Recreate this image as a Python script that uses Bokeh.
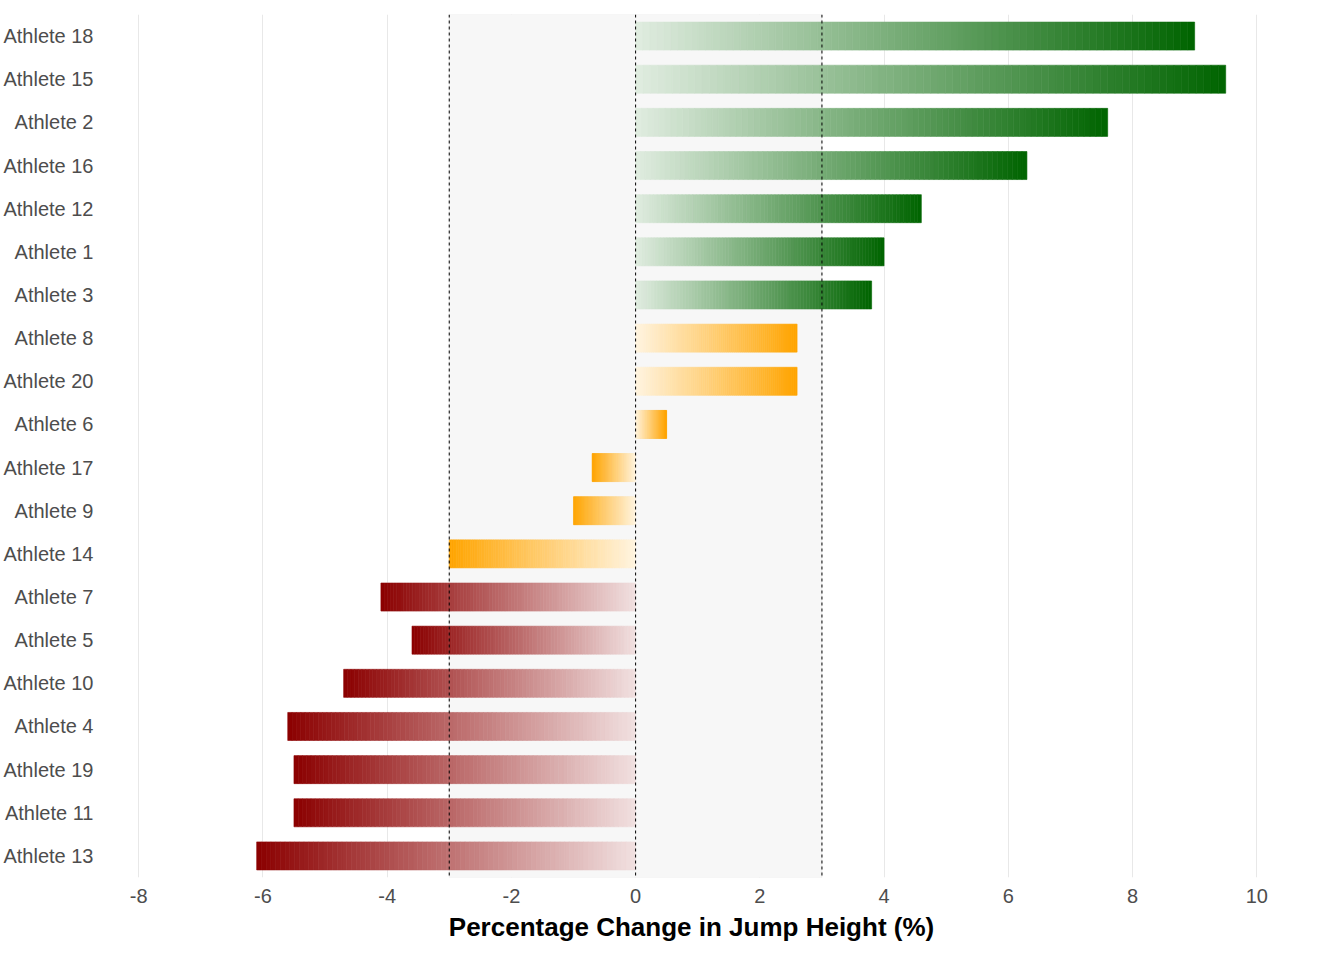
from bokeh.plotting import figure
from bokeh.models import Span, BoxAnnotation, FactorRange, CustomJSTickFormatter
from bokeh.embed import file_html
from bokeh.resources import INLINE

athletes = ["Athlete 18", "Athlete 15", "Athlete 2", "Athlete 16", "Athlete 12",
            "Athlete 1", "Athlete 3", "Athlete 8", "Athlete 20", "Athlete 6",
            "Athlete 17", "Athlete 9", "Athlete 14", "Athlete 7", "Athlete 5",
            "Athlete 10", "Athlete 4", "Athlete 19", "Athlete 11", "Athlete 13"]
change = [9.0, 9.5, 7.6, 6.3, 4.6, 4.0, 3.8, 2.6, 2.6, 0.5,
          -0.7, -1.0, -3.0, -4.1, -3.6, -4.7, -5.6, -5.5, -5.5, -6.1]
x_ticks = [-8, -6, -4, -2, 0, 2, 4, 6, 8, 10]


def blend(rgb, t):
    # mix colour with white, t=1 gives full colour
    r, g, b = [int(round(255 + (c - 255) * t)) for c in rgb]
    return "#%02x%02x%02x" % (r, g, b)


p = figure(width=1328, height=944, y_range=FactorRange(*athletes[::-1]),
           x_range=(-8.55, 10.35), output_backend="svg", toolbar_location=None,
           min_border_left=50, min_border_top=14, min_border_right=50)
p.outline_line_color = None
p.background_fill_color = "white"

p.add_layout(BoxAnnotation(left=-3, right=3, fill_color="#F7F7F7", fill_alpha=1, level="underlay"))

# gradient bars built from thin opaque slices
n = 80
ys, lefts, rights, cols = [], [], [], []
for a, v in zip(athletes, change):
    if v > 3:
        c = (0, 100, 0)
    elif v >= -3:
        c = (255, 165, 0)
    else:
        c = (139, 0, 0)
    for i in range(n):
        x0 = v * i / n
        x1 = v * (i + 1) / n
        ys.append(a)
        lefts.append(min(x0, x1))
        rights.append(max(x0, x1))
        cols.append(blend(c, 0.12 + 0.88 * (i + 0.5) / n))
p.hbar(y=ys, left=lefts, right=rights, height=0.65, fill_color=cols,
       line_color=cols, line_width=0.6)

for xv in [-3, 0, 3]:
    p.add_layout(Span(location=xv, dimension="height", line_color="black",
                      line_dash="3 3", line_width=1))

p.xgrid.ticker = x_ticks
p.xgrid.grid_line_color = "#E8E8E8"
p.ygrid.grid_line_color = None
p.xaxis.ticker = x_ticks
p.xaxis.formatter = CustomJSTickFormatter(code="return tick.toString();")
p.xaxis.axis_line_color = None
p.yaxis.axis_line_color = None
p.xaxis.major_tick_line_color = None
p.yaxis.major_tick_line_color = None
p.xaxis.minor_tick_line_color = None
p.xaxis.major_label_text_font = "Liberation Sans"
p.yaxis.major_label_text_font = "Liberation Sans"
p.xaxis.major_label_text_font_size = "20px"
p.yaxis.major_label_text_font_size = "20px"
p.xaxis.major_label_text_color = "#4D4D4D"
p.yaxis.major_label_text_color = "#4D4D4D"
p.xaxis.axis_label = "Percentage Change in Jump Height (%)"
p.xaxis.axis_label_text_font = "Liberation Sans"
p.xaxis.axis_label_text_font_size = "26px"
p.xaxis.axis_label_text_font_style = "bold"
p.xaxis.axis_label_text_color = "black"
p.xaxis.axis_label_standoff = 6

open("out.html", "w").write(file_html(p, INLINE))
